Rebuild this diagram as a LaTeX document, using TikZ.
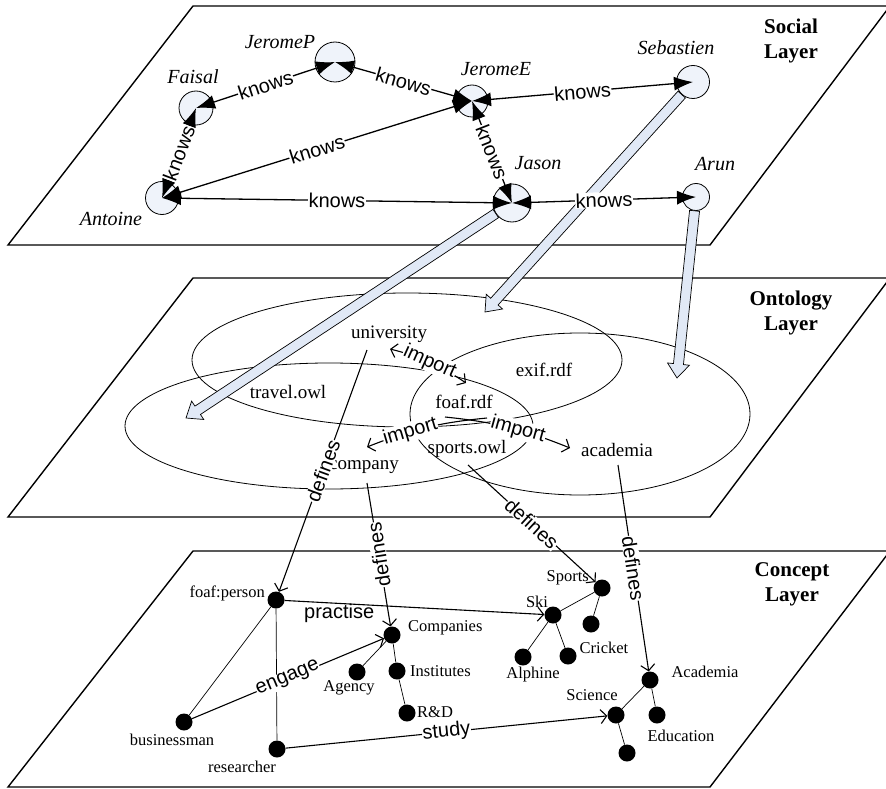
\documentclass[tikz,border=0pt]{standalone}
\usepackage{fontspec}
\setmainfont{Liberation Serif}
\setsansfont{Liberation Sans}
\usepackage{tikz}
\usetikzlibrary{arrows.meta, calc}

\definecolor{circlefill}{RGB}{239,243,250}
\definecolor{fatfill}{RGB}{225,233,246}

\newcommand{\fatarrow}[2]{%
  \coordinate (fa-base) at ($(#2)!14pt!(#1)$);
  \filldraw[fat] ($(#1)!5pt!90:(#2)$) -- ($(fa-base)!5pt!-90:(#1)$)
    -- ($(fa-base)!11pt!-90:(#1)$) -- (#2) -- ($(fa-base)!11pt!90:(#1)$)
    -- ($(fa-base)!5pt!90:(#1)$) -- ($(#1)!5pt!-90:(#2)$) -- cycle;}

\tikzset{
  layer/.style={draw, line width=1.4pt, fill=white},
  person/.style={circle, draw, line width=0.8pt, fill=circlefill, inner sep=0pt},
  who/.style={font=\fontsize{20}{22}\selectfont\itshape},
  title/.style={font=\fontsize{21}{25}\selectfont\bfseries, align=center},
  knows/.style={<->, >={Latex[length=19pt,width=14pt]}, line width=1.3pt},
  rel/.style={font=\fontsize{20}{21}\selectfont\sffamily, fill=white, inner sep=0.5pt},
  onto/.style={font=\fontsize{19}{21}\selectfont},
  space/.style={line width=0.8pt},
  fat/.style={draw, line width=0.7pt, fill=fatfill},
  concept/.style={circle, fill=black, minimum size=17pt, inner sep=0pt},
  cname/.style={font=\fontsize{16.5}{18}\selectfont, inner sep=1pt},
  link/.style={->, >={Straight Barb[length=6pt,width=14pt]}, line width=1.1pt},
  tree/.style={line width=0.7pt},
}

\begin{document}
\begin{tikzpicture}[x=1pt, y=-1pt]
\useasboundingbox (0,0) rectangle (886,789);

\foreach \t/\b in {6/245, 278/517, 551/787}
  \draw[layer] (193,\t) -- (890,\t) -- (710,\b) -- (8,\b) -- cycle;

\node[title] (social) at (791,41) {Social\\Layer};
\node[title] (ontology) at (791,313) {Ontology\\Layer};
\node[title] (concept) at (792,584) {Concept\\Layer};

\draw[space] (407,360) ellipse [x radius=215, y radius=67];
\draw[space] (329,426) ellipse [x radius=204, y radius=63];
\draw[space] (580,414) ellipse [x radius=170, y radius=81];

% social layer
\node[person, minimum size=40pt] (jeromep) at (335,62) {};
\node[person, minimum size=34pt] (faisal) at (196,108) {};
\node[person, minimum size=33pt] (antoine) at (162,198) {};
\node[person, minimum size=32pt] (jeromee) at (472,101) {};
\node[person, minimum size=33pt] (sebastien) at (693,82) {};
\node[person, minimum size=38pt] (jason) at (512,203) {};
\node[person, minimum size=27pt] (arun) at (696,197) {};

\node[who] (jeromep-l) at (280,42) {JeromeP};
\node[who] (faisal-l) at (193,77) {Faisal};
\node[who] (antoine-l) at (111,219) {Antoine};
\node[who] (jeromee-l) at (496,69) {JeromeE};
\node[who] (sebastien-l) at (676,48) {Sebastien};
\node[who] (jason-l) at (538,163) {Jason};
\node[who] (arun-l) at (715,164) {Arun};

\coordinate (jason-to) at (186,418);
\coordinate (sebastien-to) at (485,312);
\coordinate (arun-to) at (677,378);
\fatarrow{jason.213}{jason-to}
\fatarrow{sebastien.228}{sebastien-to}
\fatarrow{arun.264}{arun-to}

\foreach \a/\b in {faisal/jeromep, jeromep/jeromee, jeromee/antoine, faisal/antoine,
                   antoine/jason, jeromee/jason, jeromee/sebastien, jason/arun}
  \draw[knows] (\a.center) -- node[rel, sloped] (k-\a-\b) {knows} (\b.center);

% ontology layer
\node[onto] (university) at (389,334) {university};
\node[onto] (travel) at (288,392) {travel.owl};
\node[onto] (exif) at (544,370) {exif.rdf};
\node[onto] (foaf) at (464,402) {foaf.rdf};
\node[onto] (company) at (364,467) {company};
\node[onto] (sportsowl) at (467,449) {sports.owl};
\node[onto] (academia) at (617,450) {academia};

\coordinate (i1a) at (390,349);
\coordinate (i1b) at (466,383);
\coordinate (i2a) at (487,418);
\coordinate (i2b) at (367,447);
\coordinate (i3a) at (445,417);
\coordinate (i3b) at (570,448);
\draw[link, <->] (i1a) to[bend left=10] node[rel, sloped] (imp1) {import} (i1b);
\draw[link] (i2a) to[bend right=8] node[rel, sloped, pos=0.64] (imp2) {import} (i2b);
\draw[link] (i3a) to[bend left=8] node[rel, sloped, pos=0.58] (imp3) {import} (i3b);

% concept layer
\node[concept] (person) at (276,600) {};
\node[concept] (companies) at (392,635) {};
\node[concept] (agency) at (357,672) {};
\node[concept] (institutes) at (397,671) {};
\node[concept] (rnd) at (407,713) {};
\node[concept] (businessman) at (184,722) {};
\node[concept] (researcher) at (277,749) {};
\node[concept] (sports) at (602,588) {};
\node[concept] (ski) at (553,615) {};
\node[concept] (sports2) at (591,624) {};
\node[concept] (alphine) at (523,657) {};
\node[concept] (cricket) at (568,656) {};
\node[concept] (acad) at (650,680) {};
\node[concept] (science) at (616,715) {};
\node[concept] (education) at (657,715) {};
\node[concept] (science2) at (627,753) {};

\node[cname, anchor=east] (person-l) at (266,593) {foaf:person};
\node[cname, anchor=west] (companies-l) at (407,628) {Companies};
\node[cname] (agency-l) at (349,688) {Agency};
\node[cname, anchor=west] (institutes-l) at (409,671) {Institutes};
\node[cname, anchor=west] (rnd-l) at (416,712) {R\&D};
\node[cname] (businessman-l) at (172,740) {businessman};
\node[cname] (researcher-l) at (242,767) {researcher};
\node[cname, anchor=east] (sports-l) at (590,578) {Sports};
\node[cname] (ski-l) at (537,602) {Ski};
\node[cname] (alphine-l) at (533,675) {Alphine};
\node[cname] (cricket-l) at (604,648) {Cricket};
\node[cname] (acad-l) at (705,672) {Academia};
\node[cname] (science-l) at (592,695) {Science};
\node[cname] (education-l) at (681,736) {Education};

\foreach \a/\b in {person/businessman, person/researcher, companies/agency,
                   companies/institutes, institutes/rnd, sports/ski, sports/sports2,
                   ski/alphine, ski/cricket, acad/science, acad/education, science/science2}
  \draw[tree] (\a) -- (\b);

\draw[link] (person) -- node[rel, fill=none, below, pos=0.21] (practise) {practise} (ski);
\draw[link] (businessman) -- node[rel, sloped] (engage) {engage} (companies);
\draw[link] (researcher) -- node[rel, sloped] (study) {study} (science);

\coordinate (u-out) at (367,350);
\coordinate (c-out) at (367,483);
\coordinate (s-out) at (468,465);
\coordinate (a-out) at (618,465);
\draw[link] (u-out) -- node[rel, sloped] (def1) {defines} (person);
\draw[link] (c-out) -- node[rel, rotate=99] (def2) {defines} (companies);
\draw[link] (s-out) -- node[rel, sloped] (def3) {defines} (sports);
\draw[link] (a-out) -- node[rel, sloped] (def4) {defines} (acad);
\end{tikzpicture}
\end{document}
